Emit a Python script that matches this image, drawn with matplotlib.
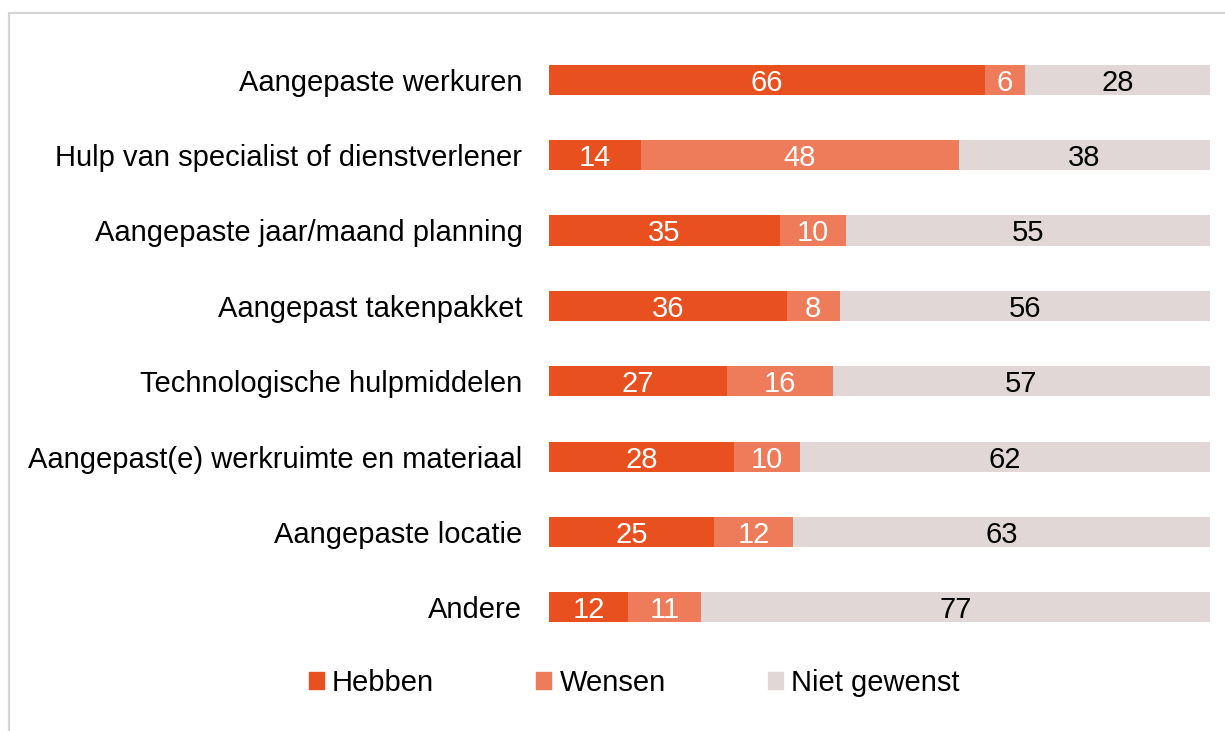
import matplotlib as mpl
import numpy as np
from matplotlib import pyplot as plt
from matplotlib.patches import Rectangle, Patch

categories = ['Aangepaste werkuren', 'Hulp van specialist of dienstverlener',
              'Aangepaste jaar/maand planning', 'Aangepast takenpakket',
              'Technologische hulpmiddelen', 'Aangepast(e) werkruimte en materiaal',
              'Aangepaste locatie', 'Andere']
hebben = [66, 14, 35, 36, 27, 28, 25, 12]
wensen = [6, 48, 10, 8, 16, 10, 12, 11]
niet_gewenst = [28, 38, 55, 56, 57, 62, 63, 77]
series_names = ['Hebben', 'Wensen', 'Niet gewenst']
colors = ['#E8501F', '#EE7B59', '#E1D7D7']
text_colors = ['white', 'white', 'black']

plt.rcParams['font.family'] = ['Liberation Sans', 'DejaVu Sans']
fontsize = 21

fig = plt.figure(figsize=(12.25, 7.31), dpi=100)
ax = fig.add_axes([0.448, 0.1176, 0.5396, 0.8249])

# grey frame (top and left edge visible)
fig.patches.append(Rectangle((9/1225, -0.05), 1.2, 1 - 13/731 + 0.05, transform=fig.transFigure,
                             fill=False, edgecolor='#d4d4d4', linewidth=1.6))

y = np.arange(len(categories))
left = np.zeros(len(categories))
for vals, name, col, tcol in zip([hebben, wensen, niet_gewenst], series_names, colors, text_colors):
    vals = np.array(vals)
    ax.barh(y, vals, left=left, height=0.4, color=col, label=name)
    for yi, l, v in zip(y, left, vals):
        ax.text(l + v/2, yi, str(v), ha='center', va='center_baseline', color=tcol, fontsize=fontsize)
    left += vals

ax.set_xlim(0, 100)
ax.set_ylim(len(categories) - 0.5, -0.5)
ax.set_yticks(y)
ax.set_yticklabels(categories, fontsize=fontsize)
ax.tick_params(axis='y', length=0, pad=19)
ax.set_xticks([])
for s in ax.spines.values():
    s.set_visible(False)

handles = [Patch(color=c) for c in colors]
fig.legend(handles, series_names, loc='center', bbox_to_anchor=(0.5176, 0.066), ncol=3,
           frameon=False, fontsize=fontsize, handlelength=0.52, handleheight=0.52,
           handletextpad=0.28, columnspacing=3.5)

plt.savefig('out.png', dpi=100)
plt.close()
